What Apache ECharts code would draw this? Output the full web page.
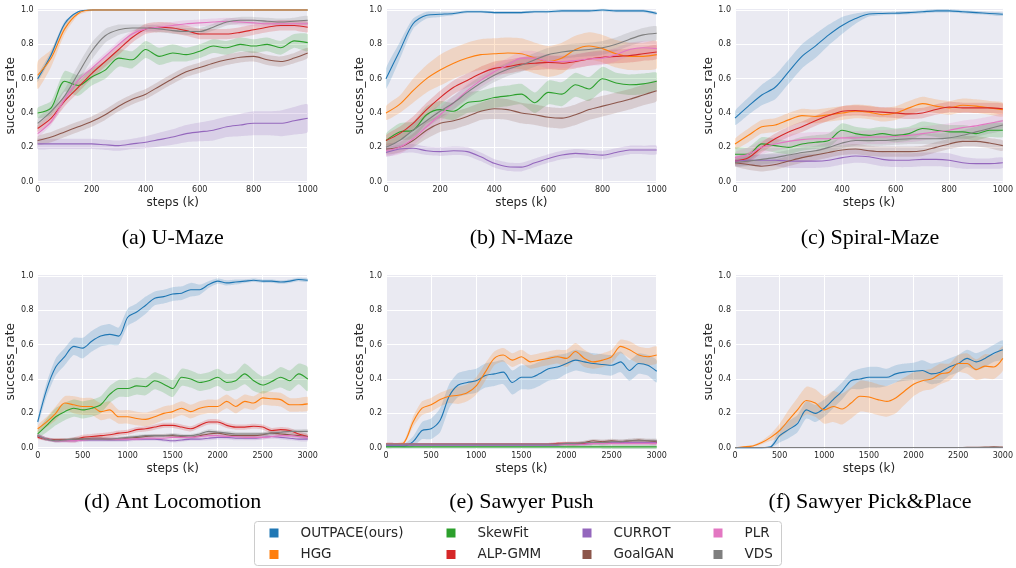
<!DOCTYPE html>
<html><head><meta charset="utf-8">
<script src="https://cdn.jsdelivr.net/npm/echarts/dist/echarts.min.js"></script>
<style>html,body{margin:0;padding:0;background:#fff}#c{width:1016px;height:568px}</style>
</head><body><div id="c"></div><script>
// ---------- data ----------
const methods = ['OUTPACE(ours)','HGG','SkewFit','ALP-GMM','CURROT','GoalGAN','PLR','VDS'];
const panelTitles = ['(a) U-Maze','(b) N-Maze','(c) Spiral-Maze','(d) Ant Locomotion','(e) Sawyer Push','(f) Sawyer Pick&Place'];
const stepsMaze = [0,50,100,150,200,250,300,350,400,450,500,550,600,650,700,750,800,850,900,950,1000];
const stepsLong = [0,100,200,300,400,500,600,700,800,900,1000,1100,1200,1300,1400,1500,1600,1700,1800,1900,2000,2100,2200,2300,2400,2500,2600,2700,2800,2900,3000];

// (a) U-Maze
const a_outpace = [0.60,0.74,0.92,0.99,1.0,1.0,1.0,1.0,1.0,1.0,1.0,1.0,1.0,1.0,1.0,1.0,1.0,1.0,1.0,1.0,1.0];
const a_outpace_sd = [0.02,0.02,0.015,0.005,0.003,0.003,0.003,0.003,0.003,0.003,0.003,0.003,0.003,0.003,0.003,0.003,0.003,0.003,0.003,0.003,0.003];
const a_hgg = [0.62,0.72,0.89,0.98,1.0,1.0,1.0,1.0,1.0,1.0,1.0,1.0,1.0,1.0,1.0,1.0,1.0,1.0,1.0,1.0,1.0];
const a_hgg_sd = [0.08,0.05,0.03,0.01,0.005,0.004,0.004,0.004,0.004,0.004,0.004,0.004,0.004,0.004,0.004,0.004,0.004,0.004,0.004,0.004,0.004];
const a_skewfit = [0.40,0.43,0.585,0.56,0.61,0.65,0.72,0.71,0.77,0.73,0.75,0.74,0.76,0.79,0.78,0.80,0.79,0.80,0.78,0.82,0.81];
const a_skewfit_sd = [0.03,0.04,0.06,0.06,0.05,0.05,0.05,0.05,0.05,0.05,0.05,0.04,0.04,0.04,0.04,0.04,0.04,0.04,0.04,0.04,0.05];
const a_alp = [0.31,0.37,0.47,0.55,0.63,0.70,0.77,0.84,0.89,0.90,0.895,0.88,0.86,0.86,0.86,0.87,0.885,0.90,0.91,0.91,0.90];
const a_alp_sd = [0.02,0.03,0.03,0.03,0.03,0.03,0.03,0.03,0.03,0.03,0.03,0.03,0.03,0.03,0.03,0.03,0.03,0.03,0.03,0.03,0.03];
const a_currot = [0.22,0.22,0.22,0.22,0.22,0.215,0.21,0.22,0.23,0.245,0.26,0.28,0.29,0.30,0.32,0.33,0.34,0.34,0.34,0.355,0.37];
const a_currot_sd = [0.03,0.03,0.03,0.03,0.03,0.03,0.03,0.03,0.035,0.04,0.045,0.05,0.055,0.06,0.06,0.065,0.07,0.07,0.075,0.08,0.08];
const a_goalgan = [0.24,0.26,0.29,0.32,0.35,0.39,0.44,0.48,0.51,0.555,0.60,0.64,0.665,0.69,0.71,0.725,0.73,0.71,0.70,0.72,0.75];
const a_goalgan_sd = [0.025,0.03,0.03,0.03,0.03,0.03,0.03,0.03,0.03,0.03,0.03,0.03,0.03,0.03,0.03,0.03,0.03,0.03,0.03,0.03,0.03];
const a_plr = [0.28,0.35,0.48,0.59,0.66,0.73,0.80,0.86,0.89,0.90,0.91,0.92,0.925,0.93,0.935,0.93,0.925,0.92,0.92,0.92,0.92];
const a_plr_sd = [0.02,0.02,0.02,0.02,0.02,0.02,0.02,0.02,0.02,0.02,0.02,0.02,0.02,0.02,0.02,0.02,0.02,0.02,0.02,0.02,0.02];
const a_vds = [0.34,0.41,0.50,0.63,0.76,0.85,0.885,0.895,0.895,0.89,0.88,0.875,0.875,0.90,0.93,0.94,0.94,0.935,0.93,0.935,0.94];
const a_vds_sd = [0.03,0.03,0.04,0.05,0.05,0.04,0.03,0.02,0.02,0.02,0.02,0.02,0.02,0.02,0.02,0.02,0.02,0.02,0.02,0.02,0.025];

// (b) N-Maze
const b_outpace = [0.60,0.76,0.92,0.97,0.975,0.98,0.99,0.99,0.985,0.985,0.985,0.99,0.99,0.995,0.995,0.995,1.0,0.995,0.995,0.995,0.98];
const b_outpace_sd = [0.06,0.05,0.03,0.02,0.015,0.01,0.008,0.008,0.008,0.008,0.008,0.008,0.008,0.008,0.008,0.008,0.008,0.008,0.008,0.008,0.008];
const b_hgg = [0.40,0.45,0.53,0.60,0.65,0.69,0.72,0.74,0.745,0.75,0.745,0.72,0.70,0.72,0.77,0.79,0.775,0.745,0.73,0.73,0.74];
const b_hgg_sd = [0.04,0.05,0.07,0.08,0.09,0.09,0.09,0.09,0.09,0.09,0.09,0.09,0.09,0.09,0.08,0.08,0.08,0.08,0.08,0.08,0.08];
const b_skewfit = [0.24,0.29,0.30,0.39,0.42,0.41,0.46,0.47,0.49,0.50,0.51,0.46,0.52,0.51,0.565,0.54,0.60,0.575,0.565,0.57,0.585];
const b_skewfit_sd = [0.04,0.05,0.05,0.05,0.05,0.05,0.06,0.06,0.06,0.06,0.06,0.06,0.07,0.07,0.07,0.07,0.07,0.06,0.06,0.06,0.05];
const b_alp = [0.24,0.28,0.34,0.42,0.49,0.55,0.59,0.63,0.66,0.67,0.685,0.69,0.695,0.69,0.70,0.715,0.725,0.73,0.735,0.745,0.755];
const b_alp_sd = [0.03,0.04,0.04,0.04,0.04,0.04,0.04,0.04,0.04,0.04,0.04,0.04,0.04,0.04,0.04,0.04,0.04,0.04,0.04,0.04,0.04];
const b_currot = [0.17,0.19,0.195,0.18,0.175,0.18,0.175,0.145,0.107,0.087,0.085,0.11,0.135,0.155,0.165,0.16,0.155,0.17,0.185,0.185,0.185];
const b_currot_sd = [0.025,0.025,0.025,0.025,0.025,0.025,0.025,0.025,0.025,0.025,0.025,0.025,0.025,0.025,0.025,0.025,0.025,0.025,0.025,0.025,0.025];
const b_goalgan = [0.19,0.20,0.24,0.30,0.34,0.355,0.38,0.41,0.425,0.42,0.40,0.39,0.375,0.37,0.39,0.42,0.44,0.46,0.48,0.505,0.53];
const b_goalgan_sd = [0.03,0.03,0.04,0.05,0.05,0.05,0.05,0.05,0.06,0.06,0.06,0.06,0.06,0.06,0.06,0.06,0.06,0.06,0.06,0.06,0.06];
const b_plr = [0.18,0.20,0.25,0.32,0.39,0.46,0.53,0.59,0.64,0.68,0.72,0.72,0.70,0.70,0.705,0.715,0.72,0.74,0.77,0.78,0.775];
const b_plr_sd = [0.03,0.04,0.04,0.04,0.04,0.04,0.04,0.04,0.04,0.04,0.04,0.04,0.04,0.04,0.04,0.04,0.04,0.04,0.04,0.04,0.04];
const b_vds = [0.20,0.24,0.30,0.355,0.41,0.46,0.52,0.575,0.62,0.655,0.68,0.71,0.74,0.755,0.765,0.77,0.78,0.80,0.83,0.855,0.865];
const b_vds_sd = [0.03,0.04,0.04,0.04,0.04,0.04,0.04,0.04,0.04,0.04,0.04,0.04,0.04,0.04,0.04,0.04,0.04,0.04,0.04,0.04,0.04];

// (c) Spiral-Maze
const c_outpace = [0.37,0.44,0.505,0.55,0.64,0.73,0.79,0.855,0.91,0.95,0.977,0.98,0.982,0.985,0.99,0.995,0.995,0.99,0.985,0.98,0.975];
const c_outpace_sd = [0.04,0.05,0.06,0.07,0.07,0.07,0.07,0.06,0.05,0.03,0.015,0.01,0.01,0.01,0.01,0.01,0.01,0.01,0.01,0.01,0.01];
const c_hgg = [0.22,0.27,0.32,0.33,0.36,0.385,0.38,0.39,0.40,0.41,0.405,0.39,0.40,0.43,0.455,0.44,0.43,0.445,0.44,0.43,0.42];
const c_hgg_sd = [0.03,0.04,0.04,0.04,0.04,0.04,0.04,0.04,0.04,0.04,0.04,0.04,0.04,0.04,0.04,0.04,0.04,0.04,0.04,0.04,0.04];
const c_skewfit = [0.16,0.16,0.22,0.21,0.20,0.22,0.23,0.24,0.30,0.28,0.27,0.28,0.27,0.28,0.31,0.30,0.29,0.29,0.28,0.30,0.30];
const c_skewfit_sd = [0.04,0.04,0.04,0.04,0.04,0.04,0.04,0.04,0.04,0.04,0.04,0.04,0.04,0.04,0.04,0.04,0.04,0.04,0.04,0.04,0.04];
const c_alp = [0.12,0.14,0.20,0.25,0.29,0.32,0.355,0.385,0.41,0.415,0.41,0.405,0.40,0.395,0.40,0.42,0.435,0.43,0.43,0.43,0.425];
const c_alp_sd = [0.02,0.03,0.03,0.03,0.03,0.03,0.03,0.03,0.03,0.03,0.03,0.03,0.03,0.03,0.03,0.03,0.03,0.03,0.03,0.03,0.03];
const c_currot = [0.12,0.125,0.125,0.125,0.12,0.12,0.12,0.125,0.14,0.15,0.145,0.13,0.125,0.125,0.13,0.13,0.125,0.11,0.105,0.105,0.11];
const c_currot_sd = [0.03,0.03,0.035,0.035,0.04,0.04,0.04,0.04,0.04,0.04,0.04,0.04,0.04,0.04,0.04,0.04,0.04,0.035,0.03,0.03,0.03];
const c_goalgan = [0.11,0.10,0.09,0.10,0.12,0.14,0.155,0.17,0.185,0.19,0.18,0.175,0.175,0.175,0.18,0.20,0.22,0.235,0.235,0.225,0.21];
const c_goalgan_sd = [0.02,0.03,0.03,0.03,0.03,0.03,0.03,0.03,0.03,0.03,0.03,0.03,0.03,0.03,0.03,0.03,0.03,0.03,0.03,0.03,0.03];
const c_plr = [0.14,0.16,0.20,0.22,0.235,0.245,0.25,0.25,0.255,0.255,0.26,0.26,0.265,0.27,0.28,0.29,0.30,0.315,0.325,0.34,0.355];
const c_plr_sd = [0.03,0.04,0.04,0.04,0.04,0.04,0.04,0.04,0.04,0.04,0.04,0.04,0.04,0.04,0.04,0.04,0.04,0.04,0.04,0.04,0.04];
const c_vds = [0.11,0.12,0.13,0.14,0.155,0.17,0.18,0.20,0.225,0.24,0.24,0.24,0.245,0.25,0.25,0.25,0.255,0.27,0.29,0.31,0.33];
const c_vds_sd = [0.02,0.03,0.03,0.03,0.03,0.03,0.03,0.03,0.03,0.03,0.03,0.03,0.03,0.03,0.03,0.03,0.03,0.03,0.03,0.03,0.03];

// (d) Ant Locomotion
const d_outpace = [0.15,0.34,0.47,0.53,0.59,0.58,0.62,0.65,0.66,0.65,0.76,0.79,0.83,0.87,0.88,0.895,0.90,0.92,0.92,0.95,0.97,0.96,0.965,0.97,0.975,0.97,0.97,0.965,0.97,0.98,0.975];
const d_outpace_sd = [0.02,0.04,0.05,0.05,0.05,0.06,0.06,0.06,0.06,0.05,0.05,0.05,0.05,0.04,0.04,0.04,0.04,0.04,0.03,0.02,0.015,0.015,0.015,0.01,0.01,0.01,0.01,0.01,0.01,0.01,0.01];
const d_hgg = [0.11,0.15,0.20,0.26,0.25,0.24,0.24,0.21,0.22,0.18,0.18,0.17,0.165,0.18,0.20,0.21,0.23,0.21,0.23,0.24,0.24,0.27,0.24,0.27,0.26,0.29,0.285,0.28,0.25,0.25,0.255];
const d_hgg_sd = [0.02,0.03,0.04,0.04,0.05,0.05,0.05,0.05,0.05,0.04,0.04,0.04,0.04,0.04,0.04,0.04,0.04,0.04,0.04,0.04,0.04,0.04,0.04,0.04,0.04,0.04,0.04,0.04,0.04,0.04,0.04];
const d_skewfit = [0.08,0.13,0.18,0.21,0.23,0.22,0.23,0.25,0.31,0.345,0.345,0.36,0.355,0.39,0.37,0.345,0.41,0.40,0.38,0.39,0.41,0.38,0.39,0.43,0.39,0.365,0.385,0.41,0.39,0.43,0.40];
const d_skewfit_sd = [0.02,0.04,0.05,0.05,0.05,0.05,0.05,0.05,0.05,0.05,0.05,0.05,0.05,0.05,0.05,0.05,0.05,0.05,0.05,0.05,0.05,0.05,0.05,0.06,0.06,0.05,0.05,0.06,0.06,0.06,0.07];
const d_alp = [0.06,0.05,0.045,0.045,0.045,0.06,0.065,0.07,0.075,0.085,0.09,0.105,0.11,0.12,0.13,0.13,0.12,0.11,0.13,0.15,0.15,0.13,0.12,0.12,0.125,0.12,0.10,0.105,0.10,0.08,0.065];
const d_alp_sd = [0.01,0.01,0.01,0.01,0.015,0.015,0.015,0.015,0.015,0.015,0.015,0.015,0.015,0.015,0.015,0.015,0.015,0.015,0.015,0.015,0.015,0.015,0.015,0.015,0.015,0.015,0.015,0.015,0.015,0.015,0.015];
const d_currot = [0.07,0.05,0.04,0.04,0.04,0.045,0.045,0.045,0.045,0.045,0.045,0.05,0.05,0.05,0.045,0.04,0.045,0.05,0.05,0.055,0.06,0.06,0.055,0.055,0.055,0.06,0.065,0.06,0.055,0.05,0.05];
const d_goalgan = [0.07,0.05,0.045,0.045,0.05,0.05,0.055,0.055,0.05,0.05,0.055,0.06,0.065,0.07,0.07,0.07,0.065,0.06,0.07,0.08,0.085,0.075,0.07,0.07,0.07,0.075,0.085,0.08,0.075,0.07,0.065];
const d_plr = [0.07,0.05,0.04,0.04,0.04,0.045,0.05,0.05,0.05,0.05,0.05,0.05,0.055,0.055,0.055,0.06,0.06,0.06,0.065,0.07,0.07,0.065,0.065,0.06,0.06,0.06,0.065,0.07,0.07,0.065,0.06];
const d_vds = [0.07,0.05,0.04,0.045,0.05,0.05,0.05,0.05,0.05,0.055,0.06,0.065,0.07,0.07,0.07,0.075,0.07,0.07,0.08,0.095,0.09,0.085,0.08,0.08,0.08,0.08,0.085,0.09,0.095,0.095,0.095];
const d_low_sd = [0.01,0.01,0.01,0.01,0.01,0.01,0.01,0.01,0.01,0.01,0.01,0.01,0.01,0.01,0.01,0.01,0.01,0.01,0.01,0.012,0.012,0.012,0.012,0.012,0.012,0.012,0.012,0.012,0.012,0.012,0.012];

// (e) Sawyer Push
const e_outpace = [0.01,0.01,0.01,0.035,0.10,0.11,0.16,0.30,0.365,0.38,0.39,0.42,0.43,0.44,0.38,0.41,0.41,0.43,0.46,0.47,0.49,0.51,0.50,0.49,0.485,0.48,0.50,0.45,0.49,0.48,0.445];
const e_outpace_sd = [0.005,0.005,0.01,0.03,0.05,0.06,0.07,0.07,0.07,0.07,0.07,0.07,0.07,0.07,0.07,0.07,0.07,0.07,0.07,0.07,0.06,0.06,0.06,0.06,0.06,0.06,0.06,0.06,0.06,0.06,0.065];
const e_hgg = [0.02,0.02,0.03,0.15,0.23,0.25,0.28,0.30,0.305,0.32,0.36,0.44,0.52,0.54,0.51,0.53,0.50,0.51,0.52,0.53,0.52,0.56,0.52,0.50,0.51,0.53,0.59,0.57,0.54,0.53,0.54];
const e_hgg_sd = [0.005,0.005,0.01,0.03,0.04,0.04,0.04,0.04,0.05,0.05,0.05,0.05,0.04,0.04,0.04,0.04,0.04,0.04,0.04,0.04,0.05,0.05,0.05,0.04,0.04,0.04,0.04,0.05,0.05,0.05,0.05];
const e_skewfit = [0.005,0.005,0.005,0.005,0.005,0.005,0.005,0.005,0.005,0.005,0.005,0.005,0.005,0.005,0.005,0.005,0.005,0.005,0.005,0.005,0.005,0.005,0.005,0.005,0.005,0.005,0.005,0.005,0.005,0.005,0.005];
const e_alp = [0.02,0.02,0.02,0.02,0.02,0.02,0.02,0.02,0.02,0.02,0.02,0.02,0.02,0.02,0.02,0.02,0.02,0.02,0.02,0.025,0.025,0.025,0.025,0.025,0.03,0.03,0.03,0.03,0.03,0.03,0.03];
const e_currot = [0.015,0.015,0.015,0.015,0.015,0.015,0.015,0.015,0.015,0.015,0.015,0.015,0.015,0.015,0.015,0.015,0.015,0.015,0.015,0.015,0.02,0.02,0.02,0.025,0.025,0.03,0.03,0.03,0.03,0.03,0.03];
const e_goalgan = [0.02,0.02,0.02,0.02,0.02,0.02,0.02,0.02,0.02,0.02,0.02,0.02,0.02,0.02,0.02,0.02,0.02,0.02,0.02,0.02,0.02,0.02,0.03,0.04,0.035,0.04,0.035,0.04,0.045,0.04,0.035];
const e_plr = [0.02,0.02,0.02,0.02,0.02,0.02,0.02,0.02,0.02,0.02,0.02,0.02,0.02,0.02,0.02,0.02,0.02,0.02,0.02,0.02,0.02,0.02,0.02,0.025,0.025,0.025,0.025,0.025,0.025,0.025,0.025];
const e_vds = [0.02,0.02,0.02,0.02,0.02,0.02,0.02,0.02,0.02,0.02,0.02,0.02,0.02,0.02,0.02,0.02,0.02,0.02,0.02,0.02,0.025,0.025,0.03,0.03,0.03,0.035,0.035,0.04,0.04,0.04,0.04];
const e_low_sd = [0.008,0.008,0.008,0.008,0.008,0.008,0.008,0.008,0.008,0.008,0.008,0.008,0.008,0.008,0.008,0.008,0.008,0.008,0.008,0.008,0.01,0.01,0.01,0.01,0.012,0.012,0.012,0.012,0.012,0.012,0.012];

// (f) Sawyer Pick&Place
const f_outpace = [0,0,0,0,0.005,0.07,0.105,0.14,0.22,0.20,0.23,0.28,0.33,0.39,0.40,0.41,0.41,0.41,0.43,0.44,0.445,0.45,0.43,0.44,0.47,0.49,0.52,0.50,0.52,0.55,0.57];
const f_outpace_sd = [0,0,0,0,0.005,0.04,0.05,0.05,0.05,0.05,0.05,0.05,0.05,0.05,0.06,0.06,0.06,0.05,0.05,0.05,0.05,0.06,0.06,0.06,0.05,0.05,0.05,0.05,0.05,0.05,0.055];
const f_hgg = [0,0.005,0.01,0.03,0.06,0.10,0.16,0.22,0.275,0.26,0.22,0.24,0.225,0.26,0.30,0.295,0.28,0.27,0.29,0.33,0.37,0.39,0.40,0.43,0.44,0.49,0.49,0.455,0.475,0.47,0.52];
const f_hgg_sd = [0,0.003,0.005,0.01,0.02,0.04,0.06,0.07,0.08,0.08,0.08,0.09,0.09,0.09,0.09,0.09,0.09,0.09,0.09,0.08,0.07,0.06,0.06,0.06,0.05,0.05,0.06,0.06,0.07,0.07,0.07];
const f_flat = [0.001,0.001,0.001,0.001,0.001,0.001,0.001,0.001,0.001,0.001,0.001,0.001,0.001,0.001,0.001,0.001,0.001,0.001,0.001,0.001,0.001,0.001,0.001,0.001,0.001,0.001,0.001,0.001,0.001,0.001,0.001];
const f_goalgan = [0.001,0.001,0.001,0.001,0.001,0.001,0.001,0.001,0.001,0.001,0.001,0.001,0.001,0.001,0.001,0.001,0.001,0.001,0.001,0.001,0.001,0.001,0.001,0.001,0.001,0.001,0.002,0.002,0.003,0.005,0.003];
const f_low_sd = [0.002,0.002,0.002,0.002,0.002,0.002,0.002,0.002,0.002,0.002,0.002,0.002,0.002,0.002,0.002,0.002,0.002,0.002,0.002,0.002,0.002,0.002,0.002,0.002,0.002,0.002,0.002,0.002,0.002,0.002,0.002];

// ---------- assembly ----------
const panelSteps = [stepsMaze, stepsMaze, stepsMaze, stepsLong, stepsLong, stepsLong];
const panelMeans = [
  [a_outpace,a_hgg,a_skewfit,a_alp,a_currot,a_goalgan,a_plr,a_vds],
  [b_outpace,b_hgg,b_skewfit,b_alp,b_currot,b_goalgan,b_plr,b_vds],
  [c_outpace,c_hgg,c_skewfit,c_alp,c_currot,c_goalgan,c_plr,c_vds],
  [d_outpace,d_hgg,d_skewfit,d_alp,d_currot,d_goalgan,d_plr,d_vds],
  [e_outpace,e_hgg,e_skewfit,e_alp,e_currot,e_goalgan,e_plr,e_vds],
  [f_outpace,f_hgg,f_flat,f_flat,f_flat,f_goalgan,f_flat,f_flat]
];
const panelSds = [
  [a_outpace_sd,a_hgg_sd,a_skewfit_sd,a_alp_sd,a_currot_sd,a_goalgan_sd,a_plr_sd,a_vds_sd],
  [b_outpace_sd,b_hgg_sd,b_skewfit_sd,b_alp_sd,b_currot_sd,b_goalgan_sd,b_plr_sd,b_vds_sd],
  [c_outpace_sd,c_hgg_sd,c_skewfit_sd,c_alp_sd,c_currot_sd,c_goalgan_sd,c_plr_sd,c_vds_sd],
  [d_outpace_sd,d_hgg_sd,d_skewfit_sd,d_alp_sd,d_low_sd,d_low_sd,d_low_sd,d_low_sd],
  [e_outpace_sd,e_hgg_sd,e_low_sd,e_low_sd,e_low_sd,e_low_sd,e_low_sd,e_low_sd],
  [f_outpace_sd,f_hgg_sd,f_low_sd,f_low_sd,f_low_sd,f_low_sd,f_low_sd,f_low_sd]
];
const colors = ['#1f77b4','#ff7f0e','#2ca02c','#d62728','#9467bd','#8c564b','#e377c2','#7f7f7f'];

const gridLefts = [37.7, 386, 735], gridWidths = [270, 270.7, 270], gridTops = [8.3, 274.3], gridH = 175.1;
const textColor = '#262626';

const grids = [], xAxes = [], yAxes = [], series = [], graphics = [];
for (let p = 0; p < 6; p++) {
  const col = p % 3, row = Math.floor(p / 3);
  grids.push({left: gridLefts[col], top: gridTops[row], width: gridWidths[col], height: gridH,
    show: true, backgroundColor: '#EAEAF2', borderWidth: 0});
  const xmax = row === 0 ? 1000 : 3000;
  xAxes.push({type: 'value', gridIndex: p, min: 0, max: xmax, interval: row === 0 ? 200 : 500,
    axisLine: {show: false}, axisTick: {show: false},
    splitLine: {show: true, lineStyle: {color: '#ffffff', width: 1}},
    axisLabel: {fontSize: 8, color: textColor, margin: 3, fontFamily: 'DejaVu Sans', formatter: v => String(v)},
    name: 'steps (k)', nameLocation: 'middle', nameGap: 13,
    nameTextStyle: {fontSize: 12, color: textColor, fontFamily: 'DejaVu Sans'}});
  yAxes.push({type: 'value', gridIndex: p, min: -0.01, max: 1.01,
    axisLine: {show: false}, axisTick: {show: false},
    splitLine: {show: true, lineStyle: {color: '#ffffff', width: 1}},
    axisLabel: {fontSize: 8, color: textColor, margin: 4, fontFamily: 'DejaVu Sans',
      formatter: v => { const r = Math.round(v * 5) / 5; return Math.abs(v - r) < 1e-6 ? Math.abs(r).toFixed(1) : ''; }},
    name: 'success_rate', nameLocation: 'middle', nameGap: 18,
    nameTextStyle: {fontSize: 12, color: textColor, fontFamily: 'DejaVu Sans'}});
  const steps = panelSteps[p];
  for (let m = 0; m < 8; m++) {
    const mean = panelMeans[p][m], sd = panelSds[p][m], color = colors[m];
    const rows = steps.map((x, i) => [x, mean[i] - sd[i], mean[i] + sd[i]]);
    series.push({type: 'custom', xAxisIndex: p, yAxisIndex: p, silent: true, z: 1, clip: true,
      data: rows, encode: {x: 0, y: [1, 2]},
      renderItem: (params, api) => {
        if (params.dataIndex !== 0) return null;
        const pts = [];
        for (let i = 0; i < rows.length; i++) pts.push(api.coord([rows[i][0], rows[i][2]]));
        for (let i = rows.length - 1; i >= 0; i--) pts.push(api.coord([rows[i][0], rows[i][1]]));
        return {type: 'polygon', shape: {points: pts, smooth: 0.2}, style: {fill: color, opacity: 0.2}, silent: true};
      }});
    series.push({type: 'line', name: methods[m], xAxisIndex: p, yAxisIndex: p, z: 3,
      data: steps.map((x, i) => [x, mean[i]]), showSymbol: false, symbol: 'none', smooth: 0.3, clip: true,
      lineStyle: {width: 1.1, color: color}, itemStyle: {color: color}, silent: true, animation: false});
  }
  graphics.push({type: 'text', x: gridLefts[col] + gridWidths[col] / 2, y: row === 0 ? 238 : 502,
    style: {text: panelTitles[p], font: '22px "Liberation Serif"', fill: '#000', textAlign: 'center', textVerticalAlign: 'middle'}});
}
graphics.unshift({type: 'rect', shape: {x: 254.5, y: 521.5, width: 527, height: 44, r: 3},
  style: {fill: '#ffffff', stroke: '#cccccc', lineWidth: 1}, z: 0});

const legendCols = [274, 451, 587, 718];
const legends = legendCols.map((cx, ci) => ({
  data: [methods[ci * 2], methods[ci * 2 + 1]], left: cx - 4.5, top: 525, orient: 'vertical',
  icon: 'rect', itemWidth: 9, itemHeight: 9, itemGap: 5.5, padding: 0, selectedMode: false,
  textStyle: {fontSize: 13.5, color: textColor, fontFamily: 'DejaVu Sans', padding: [0, 0, 0, 17], lineHeight: 16}
}));

const chart = echarts.init(document.getElementById('c'), null, {renderer: 'canvas'});
chart.setOption({
  animation: false, backgroundColor: '#ffffff',
  grid: grids, xAxis: xAxes, yAxis: yAxes, series: series, legend: legends,
  graphic: {elements: graphics}
});
</script></body></html>
